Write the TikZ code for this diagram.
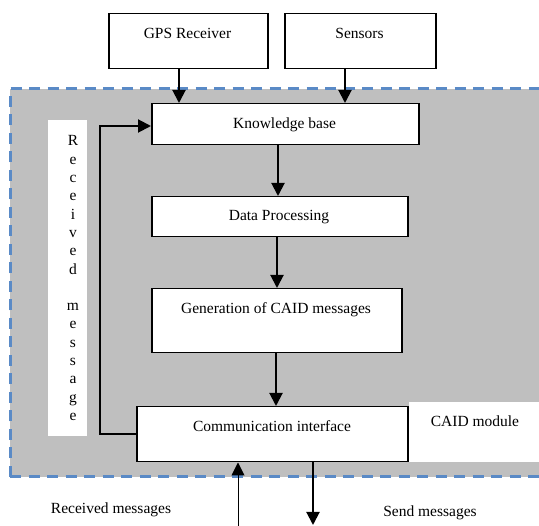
\documentclass[tikz,border=0pt]{standalone}
\usepackage{fontspec}
\setmainfont{Liberation Serif}
\usetikzlibrary{arrows.meta}
\definecolor{dashblue}{HTML}{5A8AC6}
\definecolor{panelgray}{HTML}{BFBFBF}
\tikzset{
  box/.style={draw=black, line width=1.5pt, fill=white, inner sep=0pt, anchor=north west},
  lbl/.style={anchor=base, inner sep=0pt, font=\fontsize{15.5}{18}\selectfont},
  flow/.style={line width=2pt, -{Triangle[length=13pt,width=13pt]}},
  thinflow/.style={line width=1pt, -{Triangle[length=13pt,width=13pt]}},
  border/.style={dashblue, line width=3pt, dash pattern=on 11pt off 7.5pt},
}
\begin{document}
\begin{tikzpicture}[x=1pt,y=-1pt]
\useasboundingbox (0,0) rectangle (539,526);
\begin{scope}
\clip (0,0) rectangle (539,526);
% module panel
\fill[panelgray] (10,89) rectangle (560,477);
\draw[border] (10,477) -- (10,89) -- (560,89);
\draw[border] (10,477) -- (560,477);
% white strip and CAID label area
\fill[white] (48,120) rectangle (87,436);
\fill[white] (409,402) rectangle (545,462);
\end{scope}

% boxes
\node[box, minimum width=159pt, minimum height=55pt] (gps) at (108,13) {};
\node[box, minimum width=151pt, minimum height=55pt] (sen) at (284,13) {};
\node[box, minimum width=267pt, minimum height=41pt] (kb) at (151,103) {};
\node[box, minimum width=256pt, minimum height=40pt] (dp) at (151,196) {};
\node[box, minimum width=250pt, minimum height=64pt] (gen) at (151,288) {};
\node[box, minimum width=271pt, minimum height=55pt] (ci) at (136,406) {};

% labels
\node[lbl] at (187.5,39) {GPS Receiver};
\node[lbl] at (359.5,39) {Sensors};
\node[lbl] at (284.5,128.5) {Knowledge base};
\node[lbl] at (279,221) {Data Processing};
\node[lbl] at (276,313.5) {Generation of CAID messages};
\node[lbl] at (272,432) {Communication interface};
\node[lbl] at (475,427) {CAID module};
\node[lbl] at (111,514) {Received messages};
\node[lbl] at (430,517) {Send messages};

% vertical text
\foreach \ch [count=\i from 0] in {R,e,c,e,i,v,e,d}
  \node[lbl] at (73,146+18.3*\i) {\ch};
\foreach \ch [count=\i from 9] in {m,e,s,s,a,g,e}
  \node[lbl] at (73,146+18.3*\i) {\ch};

% coordinates for free ends
\coordinate (inbot) at (238,526);
\coordinate (outbot) at (313,525);

% connectors
\draw[flow] (gps.south -| 179,0) -- (kb.north -| 179,0);
\draw[flow] (sen.south -| 345,0) -- (kb.north -| 345,0);
\draw[flow] (kb.south -| 278,0) -- (dp.north -| 278,0);
\draw[flow] (dp.south -| 277,0) -- (gen.north -| 277,0);
\draw[flow] (gen.south -| 276,0) -- (ci.north -| 276,0);
\draw[flow] (ci.west |- 0,434) -| (100,126) -- (kb.west |- 0,126);
\draw[thinflow] (inbot) -- (ci.south -| inbot);
\draw[flow] (ci.south -| outbot) -- (outbot);
\end{tikzpicture}
\end{document}
